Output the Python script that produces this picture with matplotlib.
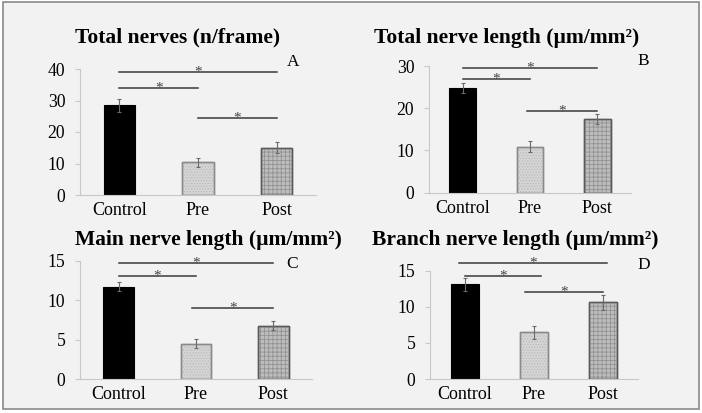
"""
Nerve morphometry panels (A-D): Control vs Pre vs Post, mean +/- SE with
significance brackets. Four small bar charts on one grey card.
"""

import matplotlib
matplotlib.use("Agg")
import matplotlib.pyplot as plt
from matplotlib.patches import Rectangle
import numpy as np

plt.rcParams["font.family"] = ["Liberation Serif", "DejaVu Serif"]
plt.rcParams["hatch.linewidth"] = 0.6

# Data

groups = ["Control", "Pre", "Post"]

total_nerves = [28.5, 10.4, 15.0]
total_nerves_err = [2.0, 1.5, 1.7]
total_nerves_sig = [(0, 2, 39.0), (0, 1, 33.9), (1, 2, 24.4)]

total_length = [24.7, 10.9, 17.4]
total_length_err = [1.2, 1.3, 1.2]
total_length_sig = [(0, 2, 29.5), (0, 1, 26.9), (0.95, 2, 19.4)]

main_length = [11.7, 4.5, 6.75]
main_length_err = [0.6, 0.6, 0.6]
main_length_sig = [(0, 2, 14.67), (0, 1, 13.05), (0.95, 2, 8.96)]

branch_length = [13.1, 6.5, 10.6]
branch_length_err = [0.85, 0.9, 1.0]
branch_length_sig = [(-0.08, 2.05, 16.0), (0, 1.1, 14.3), (0.87, 2, 12.1)]

W, H = 702, 413
BG = "#f2f2f2"

fig = plt.figure(figsize=(W / 100, H / 100), dpi=100, facecolor="white")
fig.patches.append(Rectangle((3 / W, 1 - 409 / H), 696 / W, 407 / H,
                             transform=fig.transFigure, facecolor=BG,
                             edgecolor="#8a8a8a", linewidth=1.2, zorder=-10))


def px_axes(x0, y0, x1, y1):
    # pixel box (top-left origin) -> figure axes
    return fig.add_axes([x0 / W, 1 - y1 / H, (x1 - x0) / W, (y1 - y0) / H])


def px_text(x, y, s, **kw):
    fig.text(x / W, 1 - y / H, s, ha="center", va="center", **kw)


def draw_panel(ax, values, errors, sig, ymax, yticks):
    x = np.arange(len(groups))
    ax.set_facecolor("none")
    # control: solid black
    ax.bar(x[0], values[0], 0.4, color="black", edgecolor="black", linewidth=0.8, zorder=2)
    # pre: fine dotted light grey
    ax.bar(x[1], values[1], 0.4, color="#d5d5d5", edgecolor="#8a8a8a", linewidth=1.0, zorder=2)
    ax.bar(x[1], values[1], 0.4, color="none", edgecolor="#b9b9b9", hatch="......",
           linewidth=0, zorder=3)
    ax.bar(x[1], values[1], 0.4, color="none", edgecolor="#8a8a8a", linewidth=1.0, zorder=4)
    # post: grey plaid
    ax.bar(x[2], values[2], 0.4, color="#bdbdbd", edgecolor="#5a5a5a", linewidth=1.0, zorder=2)
    ax.bar(x[2], values[2], 0.4, color="none", edgecolor="#929292", hatch="++++",
           linewidth=0, zorder=3)
    ax.bar(x[2], values[2], 0.4, color="none", edgecolor="#5a5a5a", linewidth=1.0, zorder=4)

    ax.errorbar(x, values, yerr=errors, fmt="none", ecolor="#6a6a6a",
                elinewidth=0.8, capsize=1.5, capthick=0.8, zorder=5)

    for x0, x1, y in sig:
        ax.plot([x0, x1], [y, y], color="#3a3a3a", linewidth=1.1,
                clip_on=False, zorder=6)
        ax.annotate("*", ((x0 + x1) / 2, y), xytext=(0, -2.5),
                    textcoords="offset points", ha="center", va="baseline",
                    fontsize=11, color="#444444", annotation_clip=False)

    ax.set_xlim(-0.5, 2.5)
    ax.set_ylim(0, ymax)
    ax.set_yticks(yticks)
    ax.set_xticks(x)
    ax.set_xticklabels(groups)
    for s in ("top", "right"):
        ax.spines[s].set_visible(False)
    for s in ("left", "bottom"):
        ax.spines[s].set_color("#c8c8c8")
        ax.spines[s].set_linewidth(0.8)
    ax.tick_params(axis="y", length=3.6, width=0.8, color="#c8c8c8",
                   pad=7, labelsize=12.7)
    ax.tick_params(axis="x", length=0, pad=5, labelsize=13)


axA = px_axes(80, 69, 316, 195)
draw_panel(axA, total_nerves, total_nerves_err, total_nerves_sig, 40, [0, 10, 20, 30, 40])
axB = px_axes(429, 66, 631, 192.7)
draw_panel(axB, total_length, total_length_err, total_length_sig, 30, [0, 10, 20, 30])
axC = px_axes(80, 260.7, 312, 379)
draw_panel(axC, main_length, main_length_err, main_length_sig, 15, [0, 5, 10, 15])
axD = px_axes(430, 270.7, 638, 379)
draw_panel(axD, branch_length, branch_length_err, branch_length_sig, 15, [0, 5, 10, 15])

title_kw = dict(fontsize=15.5, fontweight="bold")
px_text(177.5, 37, "Total nerves (n/frame)", **title_kw)
px_text(507, 38, "Total nerve length (\u00b5m/mm\u00b2)", **title_kw)
px_text(208.7, 240, "Main nerve length (\u00b5m/mm\u00b2)", **title_kw)
px_text(514.8, 240, "Branch nerve length (\u00b5m/mm\u00b2)", **title_kw)

px_text(293, 62, "A", fontsize=12.5)
px_text(643.7, 61, "B", fontsize=12.5)
px_text(291.7, 264.3, "C", fontsize=12.5)
px_text(643.7, 265, "D", fontsize=12.5)

fig.savefig("out.png", dpi=100, facecolor="white")
